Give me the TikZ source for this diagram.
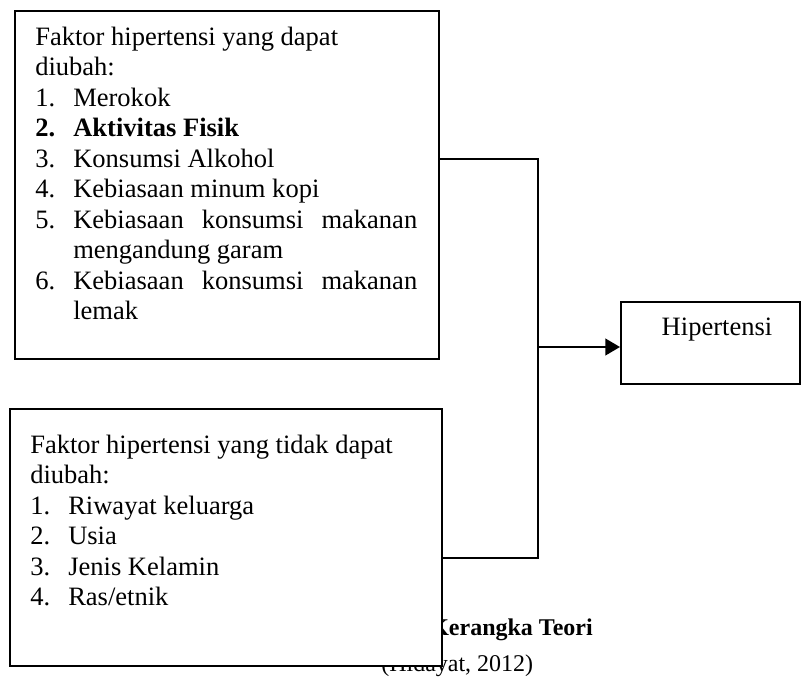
\documentclass[tikz,border=0pt]{standalone}
\usepackage{fontspec}
\setmainfont{Liberation Serif}
\usetikzlibrary{arrows.meta}
\newcommand\bodyfont{\fontsize{19.9pt}{22.9pt}\selectfont\hyphenpenalty=10000\tolerance=10000}
\newcommand\capfont{\fontsize{18pt}{21pt}\selectfont}
\newcommand\itm[2]{\par\hangindent=28.5pt\hangafter=1\noindent\makebox[28.5pt][l]{#1}#2}
\tikzset{
  frame/.style={draw, line width=1.6pt, fill=white, inner sep=0pt, anchor=north west},
  body/.style={inner sep=0pt, anchor=base west, align=justify, font=\bodyfont},
  link/.style={line width=1.6pt},
}
\begin{document}
\begin{tikzpicture}[x=0.75pt, y=-0.75pt]
\useasboundingbox (0,0) rectangle (801,679);
% caption (partly covered by the lower box)
\node[inner sep=0pt, anchor=base east, font=\capfont\bfseries] (cap) at (593,635) {Kerangka Teori};
\node[inner sep=0pt, anchor=base west, font=\capfont] (src) at (381,671) {(Hidayat, 2012)};
% boxes
\node[frame, minimum width=318pt, minimum height=261pt] (b1) at (14,10) {};
\node[frame, minimum width=324.4pt, minimum height=192.75pt] (b2) at (8.5,408) {};
\node[frame, minimum width=134.6pt, minimum height=61.5pt] (b3) at (620,301) {};
% texts
\node[body, text width=286.5pt] (t1) at (35,45) {Faktor hipertensi yang dapat\\ diubah:
\itm{1.}{Merokok}
\itm{\textbf{2.}}{\textbf{Aktivitas Fisik}}
\itm{3.}{Konsumsi Alkohol}
\itm{4.}{Kebiasaan minum kopi}
\itm{5.}{Kebiasaan konsumsi makanan\linebreak mengandung garam}
\itm{6.}{Kebiasaan konsumsi makanan\linebreak lemak}\par};
\node[body, text width=300pt] (t2) at (30,453) {Faktor hipertensi yang tidak dapat\\ diubah:
\itm{1.}{Riwayat keluarga}
\itm{2.}{Usia}
\itm{3.}{Jenis Kelamin}
\itm{4.}{Ras/etnik}\par};
\node[inner sep=0pt, anchor=base, font=\bodyfont] (t3) at (717,335) {Hipertensi};
% connectors
\coordinate (j1) at (538,159);
\coordinate (j2) at (538,558);
\coordinate (ja) at (538,347);
\draw[link] (b1.east |- j1) -- (j1) -- (j2) -- (b2.east |- j2);
\draw[link, -{Triangle[length=11pt, width=12.5pt]}] (ja) -- (b3.west |- ja);
\end{tikzpicture}
\end{document}
